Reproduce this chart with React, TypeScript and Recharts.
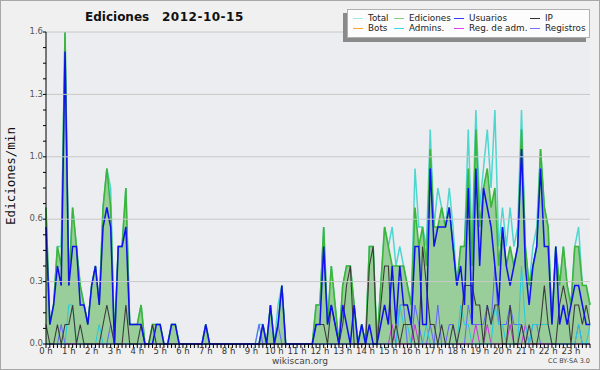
import { ComposedChart, Area, XAxis, YAxis, CartesianGrid, ReferenceLine } from 'recharts';

// 10-minute slots, 0:00 .. 23:50 (edits per minute)
const ediciones = [
  0.7, 0.1, 0.2, 0.5, 0.4, 1.6, 0.3, 0.7, 0.5, 0.3, 0.2, 0.1,
  0.3, 0.4, 0.2, 0.7, 0.9, 0.7, 0, 0.5, 0.5, 0.8, 0.1, 0.1,
  0.1, 0.2, 0, 0, 0.1, 0.1, 0.1, 0, 0, 0.1, 0.1, 0,
  0, 0, 0, 0, 0, 0, 0.1, 0, 0, 0, 0, 0,
  0, 0, 0, 0, 0, 0, 0, 0, 0, 0.1, 0, 0.2,
  0, 0.1, 0.3, 0, 0, 0, 0, 0, 0, 0, 0, 0.2,
  0.2, 0.6, 0.1, 0.4, 0.2, 0, 0.3, 0.4, 0.4, 0.2, 0, 0.1,
  0, 0.5, 0.5, 0, 0.3, 0.6, 0.5, 0.4, 0.4, 0.4, 0.4, 0.3,
  0.2, 0.7, 0.5, 0.6, 0.4, 1.0, 0.6, 0.6, 0.7, 0.6, 0.7, 0.5,
  0.3, 0.5, 0.5, 0.9, 0.4, 1.1, 0.6, 0.8, 0.9, 0.7, 0.8, 0.4,
  0.6, 0.4, 0.5, 0.4, 0.5, 1.1, 0.5, 0.3, 0.4, 0.5, 1.0, 0.7,
  0.6, 0.1, 0.5, 0.3, 0.5, 0.3, 0.2, 0.5, 0.5, 0.3, 0.3, 0.2,
];

const usuarios = [
  0.6, 0.1, 0.2, 0.4, 0.3, 1.5, 0.3, 0.5, 0.5, 0.2, 0.2, 0.1,
  0.3, 0.4, 0.2, 0.6, 0.7, 0.6, 0, 0.5, 0.5, 0.6, 0.1, 0.1,
  0.1, 0.1, 0, 0, 0, 0.1, 0.1, 0, 0, 0.1, 0.1, 0,
  0, 0, 0, 0, 0, 0, 0.1, 0, 0, 0, 0, 0,
  0, 0, 0, 0, 0, 0, 0, 0, 0, 0.1, 0, 0.2,
  0, 0.1, 0.3, 0, 0, 0, 0, 0, 0, 0, 0, 0.1,
  0.1, 0.5, 0.1, 0.2, 0.1, 0, 0.2, 0.1, 0, 0.2, 0, 0.1,
  0, 0.1, 0, 0, 0.1, 0.2, 0.1, 0.4, 0.1, 0.4, 0.2, 0.2,
  0.1, 0.5, 0.5, 0.1, 0.1, 0.9, 0.5, 0.6, 0.6, 0.6, 0.7, 0.5,
  0.3, 0.4, 0.2, 0.8, 0.1, 0.9, 0.4, 0.8, 0.7, 0.6, 0.4, 0.2,
  0.6, 0.4, 0.3, 0.4, 0.5, 1.0, 0.4, 0.2, 0.4, 0.5, 0.9, 0.5,
  0.5, 0.1, 0.5, 0.1, 0.2, 0.1, 0.2, 0.3, 0.3, 0.2, 0.1, 0.1,
];

const ip = [
  0.1, 0, 0, 0.1, 0, 0.1, 0.1, 0.2, 0, 0.1, 0, 0,
  0, 0, 0, 0.1, 0.2, 0.1, 0, 0, 0, 0.2, 0, 0,
  0, 0.1, 0, 0, 0.1, 0, 0, 0, 0, 0, 0, 0,
  0, 0, 0, 0, 0, 0, 0, 0, 0, 0, 0, 0,
  0, 0, 0, 0, 0, 0, 0, 0, 0, 0, 0, 0,
  0, 0, 0, 0, 0, 0, 0, 0, 0, 0, 0, 0.1,
  0.1, 0.1, 0, 0.2, 0.1, 0, 0.1, 0.3, 0.4, 0, 0, 0,
  0, 0.4, 0.5, 0, 0.2, 0.4, 0.4, 0, 0.1, 0, 0.1, 0.1,
  0.1, 0, 0, 0.5, 0.3, 0.1, 0.1, 0, 0.1, 0, 0, 0.1,
  0, 0.1, 0.3, 0.3, 0.3, 0.2, 0.2, 0, 0.2, 0.1, 0.2, 0.2,
  0, 0, 0.2, 0, 0, 0.1, 0, 0.1, 0, 0, 0.1, 0.3,
  0.1, 0, 0, 0.2, 0.3, 0.2, 0, 0.2, 0.2, 0.1, 0.2, 0.1,
];

const total = [
  0.7, 0.1, 0.2, 0.5, 0.5, 1.6, 0.3, 0.7, 0.5, 0.3, 0.2, 0.1,
  0.3, 0.4, 0.2, 0.7, 0.9, 0.8, 0, 0.5, 0.5, 0.8, 0.1, 0.1,
  0.1, 0.2, 0, 0, 0.1, 0.1, 0.1, 0, 0, 0.1, 0.1, 0,
  0, 0, 0, 0, 0, 0, 0.1, 0, 0, 0, 0, 0,
  0, 0, 0, 0, 0, 0, 0, 0, 0.1, 0.1, 0, 0.2,
  0, 0.2, 0.3, 0, 0, 0, 0, 0, 0, 0, 0, 0.2,
  0.2, 0.6, 0.1, 0.4, 0.2, 0, 0.3, 0.4, 0.4, 0.2, 0, 0.1,
  0, 0.5, 0.5, 0, 0.3, 0.6, 0.5, 0.6, 0.4, 0.5, 0.4, 0.3,
  0.2, 0.9, 0.6, 0.6, 0.5, 1.1, 0.6, 0.8, 0.7, 0.6, 0.8, 0.6,
  0.3, 0.5, 0.5, 1.1, 0.5, 1.2, 0.7, 0.9, 1.1, 0.8, 1.2, 0.5,
  0.7, 0.5, 0.7, 0.5, 0.6, 1.2, 0.5, 0.3, 0.5, 0.6, 1.0, 0.7,
  0.6, 0.1, 0.5, 0.3, 0.5, 0.3, 0.2, 0.5, 0.6, 0.3, 0.3, 0.2,
];

const admins = [
  0, 0, 0, 0, 0, 0, 0.2, 0.2, 0, 0, 0, 0,
  0, 0, 0.1, 0, 0, 0, 0, 0, 0, 0, 0, 0,
  0, 0, 0, 0, 0, 0, 0, 0, 0, 0, 0, 0,
  0, 0, 0, 0, 0, 0, 0, 0, 0, 0, 0, 0,
  0, 0, 0, 0, 0, 0, 0, 0, 0, 0, 0, 0,
  0, 0, 0, 0, 0, 0, 0, 0, 0, 0, 0, 0,
  0, 0, 0, 0, 0, 0, 0, 0, 0, 0, 0, 0.1,
  0, 0, 0, 0, 0, 0, 0, 0, 0, 0.2, 0.1, 0.1,
  0, 0, 0, 0, 0.1, 0, 0, 0, 0, 0, 0, 0,
  0, 0.2, 0.1, 0.1, 0, 0, 0, 0, 0, 0, 0.2, 0.1,
  0.1, 0, 0, 0, 0, 0.4, 0.1, 0, 0.1, 0.1, 0.1, 0.1,
  0.1, 0, 0, 0, 0, 0, 0, 0, 0.1, 0, 0, 0.1,
];

const regAdm = [
  0, 0, 0, 0, 0, 0, 0, 0, 0, 0, 0, 0,
  0, 0, 0, 0, 0, 0, 0, 0, 0, 0, 0, 0,
  0, 0, 0, 0, 0, 0, 0, 0, 0, 0, 0, 0,
  0, 0, 0, 0, 0, 0, 0, 0, 0, 0, 0, 0,
  0, 0, 0, 0, 0, 0, 0, 0, 0, 0, 0, 0,
  0, 0, 0, 0, 0, 0, 0, 0, 0, 0, 0, 0,
  0, 0, 0, 0, 0, 0, 0, 0, 0, 0, 0, 0,
  0, 0, 0, 0, 0, 0, 0, 0.1, 0, 0, 0, 0,
  0, 0.1, 0, 0, 0, 0, 0, 0, 0, 0, 0, 0,
  0, 0, 0, 0, 0, 0.1, 0, 0, 0.1, 0, 0, 0,
  0, 0, 0.1, 0, 0, 0, 0.1, 0, 0, 0, 0, 0,
  0, 0, 0, 0, 0, 0, 0, 0, 0, 0, 0, 0,
];

const registros = [
  0, 0, 0, 0, 0.1, 0, 0, 0, 0, 0, 0, 0,
  0, 0, 0, 0, 0, 0.1, 0, 0, 0, 0, 0, 0,
  0, 0, 0, 0, 0, 0, 0, 0, 0, 0, 0, 0,
  0, 0, 0, 0, 0, 0, 0, 0, 0, 0, 0, 0,
  0, 0, 0, 0, 0, 0, 0, 0, 0.1, 0, 0, 0,
  0, 0.1, 0, 0, 0, 0, 0, 0, 0, 0, 0, 0,
  0, 0, 0, 0, 0, 0, 0, 0, 0, 0, 0, 0,
  0, 0, 0, 0, 0, 0, 0, 0, 0, 0.2, 0.2, 0,
  0, 0.2, 0.1, 0, 0, 0.1, 0, 0.2, 0, 0, 0.1, 0.1,
  0, 0, 0, 0.2, 0.1, 0.1, 0.1, 0.1, 0.2, 0.1, 0.4, 0.1,
  0.1, 0.1, 0.2, 0.1, 0.1, 0.1, 0, 0, 0.1, 0.1, 0, 0,
  0, 0, 0, 0, 0, 0, 0, 0, 0.1, 0, 0, 0,
];

const hourLabels = [
  '0 h', '1 h', '2 h', '3 h', '4 h', '5 h', '6 h', '7 h', '8 h', '9 h', '10 h', '11 h',
  '12 h', '13 h', '14 h', '15 h', '16 h', '17 h', '18 h', '19 h', '20 h', '21 h', '22 h', '23 h',
];
const yLabels = ['0.0', '0.3', '0.6', '1.0', '1.3', '1.6'];
const yMajor = [0.32, 0.64, 0.96, 1.28, 1.6];

const legendItems = [
  { name: 'Total', color: '#a3e6e6' },
  { name: 'Ediciones', color: '#7fd07f' },
  { name: 'Usuarios', color: '#3a3aff' },
  { name: 'IP', color: '#333333' },
  { name: 'Bots', color: '#ffa62b' },
  { name: 'Admins.', color: '#3ad6e6' },
  { name: 'Reg. de adm.', color: '#e040f0' },
  { name: 'Registros', color: '#7474ff' },
];

const data = ediciones.map((v, i) => ({
  i,
  ed: v,
  us: usuarios[i],
  ip: ip[i],
  tot: total[i],
  adm: admins[i],
  radm: regAdm[i],
  reg: registros[i],
}));

const slotTicks = data.map((d) => d.i);
const yTicks = Array.from({ length: 21 }, (_, k) => k * 0.08);

const FONT = 'DejaVu Sans, sans-serif';

const XTick = (props: any) => {
  const { x, y, payload } = props;
  const v = payload.value;
  return (
    <g>
      <line x1={x} y1={y} x2={x} y2={y + 4} stroke="#000" strokeWidth={1} />
      {v % 6 === 0 && (
        <text x={x} y={y + 9.5} textAnchor="middle" fontSize={8.5} fill="#333" fontFamily={FONT}>
          {hourLabels[v / 6]}
        </text>
      )}
    </g>
  );
};

const YTick = (props: any) => {
  const { x, y, payload } = props;
  const k = Math.round(payload.value / 0.08);
  const major = k % 4 === 0;
  return (
    <g>
      <line x1={x - 3} y1={y} x2={x} y2={y} stroke="#000" strokeWidth={1} />
      {major && (
        <text x={x - 3} y={y} dy="0.25em" textAnchor="end" fontSize={8.5} fill="#555" fontFamily={FONT}>
          {yLabels[k / 4]}
        </text>
      )}
    </g>
  );
};

const Legend = () => {
  const cols = [5, 46, 106, 182];
  return (
    <div
      style={{
        position: 'absolute',
        left: 347,
        top: 9,
        width: 243,
        height: 29,
        background: '#fcfcfc',
        border: '1px solid #b0b0b0',
        boxSizing: 'border-box',
        boxShadow: '-4px 4px 0 #8a8a8a',
      }}
    >
      {legendItems.map((item, idx) => {
        const row = Math.floor(idx / 4);
        const col = idx % 4;
        return (
          <div
            key={item.name}
            style={{ position: 'absolute', left: cols[col], top: 3 + row * 10, height: 10, display: 'flex', alignItems: 'center' }}
          >
            <div style={{ width: 10, height: 1, background: item.color, marginRight: 5 }} />
            <span style={{ fontSize: 8.8, color: '#222', fontFamily: FONT, whiteSpace: 'nowrap', lineHeight: '10px' }}>
              {item.name}
            </span>
          </div>
        );
      })}
    </div>
  );
};

// every series is an Area so they stack in the order written below
const seriesProps = { dot: false, isAnimationActive: false, fill: 'none', fillOpacity: 0 } as const;

export default function App() {
  return (
    <div
      style={{
        position: 'absolute',
        left: 0,
        top: 0,
        width: 600,
        height: 370,
        background: '#f0f0f0',
        boxShadow: 'inset 0 0 0 1px #a8a8a8',
        fontFamily: FONT,
        overflow: 'hidden',
      }}
    >
      <ComposedChart width={600} height={370} data={data} margin={{ top: 32, right: 10, left: 6, bottom: 12 }}>
        <CartesianGrid horizontal={false} vertical={false} fill="#ecedf0" stroke="none" />
        {yMajor.map((v) => (
          <ReferenceLine key={v} y={v} stroke="#c8c8c8" strokeWidth={1} />
        ))}
        <Area dataKey="tot" stroke="#4fd6cf" strokeWidth={1.5} {...seriesProps} />
        <Area
          dataKey="ed"
          stroke="#3bb53b"
          strokeWidth={1.6}
          fill="#99cd99"
          fillOpacity={1}
          dot={false}
          isAnimationActive={false}
        />
        <Area dataKey="reg" stroke="#6464ff" strokeWidth={1} {...seriesProps} />
        <Area dataKey="radm" stroke="#cc33dd" strokeWidth={1} {...seriesProps} />
        <Area dataKey="adm" stroke="#22ccdd" strokeWidth={1} {...seriesProps} />
        <Area dataKey="ip" stroke="#3c3c3c" strokeWidth={1.1} {...seriesProps} />
        <Area dataKey="us" stroke="#1111ee" strokeWidth={1.5} {...seriesProps} />
        <XAxis
          dataKey="i"
          type="number"
          domain={[0, 143]}
          ticks={slotTicks}
          interval={0}
          tick={XTick}
          tickLine={false}
          tickSize={0}
          tickMargin={0}
          height={14}
          axisLine={{ stroke: '#000' }}
        />
        <YAxis
          type="number"
          domain={[0, 1.6]}
          ticks={yTicks}
          interval={0}
          tick={YTick}
          tickLine={false}
          tickSize={0}
          tickMargin={0}
          width={40}
          axisLine={{ stroke: '#000' }}
        />
      </ComposedChart>

      <div style={{ position: 'absolute', left: 85, top: 10, fontSize: 12, fontWeight: 'bold', color: '#111', whiteSpace: 'nowrap' }}>
        Ediciones
      </div>
      <div style={{ position: 'absolute', left: 162, top: 10, fontSize: 12, fontWeight: 'bold', color: '#111', whiteSpace: 'nowrap', letterSpacing: 0.5 }}>
        2012-10-15
      </div>

      <div
        style={{
          position: 'absolute',
          left: 10,
          top: 176,
          transform: 'translate(-50%, -50%) rotate(-90deg)',
          fontSize: 12.5,
          fontFamily: 'DejaVu Sans Mono, monospace',
          color: '#111',
          whiteSpace: 'nowrap',
        }}
      >
        Ediciones/min
      </div>

      <Legend />

      <div style={{ position: 'absolute', left: 0, width: 600, top: 356, textAlign: 'center', fontSize: 9, lineHeight: '11px', color: '#444' }}>
        wikiscan.org
      </div>
      <div style={{ position: 'absolute', right: 10, top: 357, fontSize: 6.5, lineHeight: '8px', color: '#444' }}>CC BY-SA 3.0</div>
    </div>
  );
}
